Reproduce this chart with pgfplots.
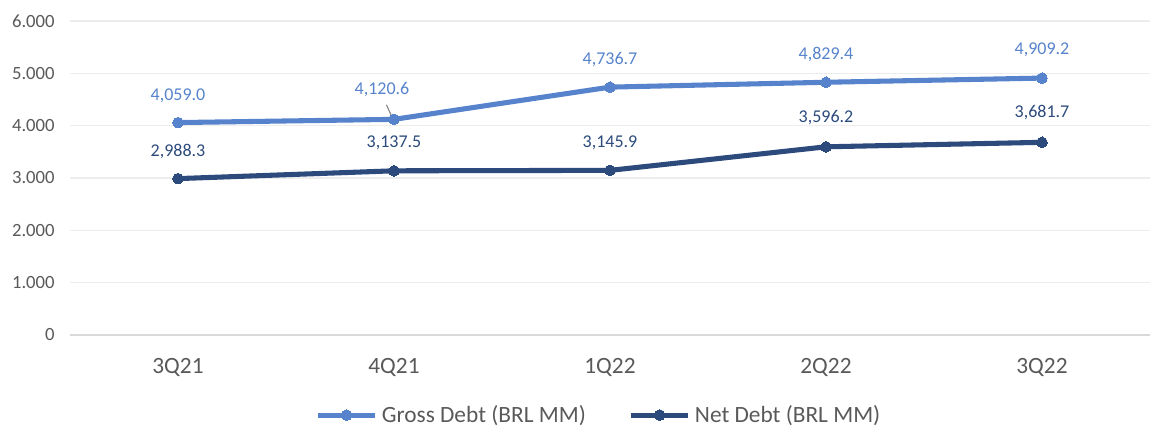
\documentclass[border=0pt]{standalone}
\usepackage{pgfplots}
\usepackage{pgfplotstable}
\pgfplotsset{compat=1.18}
\usepackage{fontspec}
\setmainfont{Carlito}

\definecolor{grossblue}{HTML}{5683CC}
\definecolor{netblue}{HTML}{2C4A7C}
\definecolor{txtgray}{HTML}{595959}
\definecolor{gridgray}{HTML}{EDEDED}
\definecolor{axisgray}{HTML}{D9D9D9}

% x = quarter index, dx/dy = label offset in pt
\pgfplotstableread{
x y dx dy
0 4059.0 0 20
1 4120.6 -9 22
2 4736.7 0 21
3 4829.4 0 21
4 4909.2 0 21
}\grossdebt
\pgfplotstableread{
x y dx dy
0 2988.3 0 20.5
1 3137.5 0 21
2 3145.9 0 21
3 3596.2 0 22
4 3681.7 0 22
}\netdebt

\begin{document}
\begin{tikzpicture}[x=1pt,y=1pt]
\useasboundingbox (-52.5,-69.75) rectangle (815.25,251.25);
\begin{axis}[
    scale only axis,
    width=810pt, height=235.5pt,
    xmin=-0.5, xmax=4.5,
    ymin=0, ymax=6000,
    xtick={0,...,4},
    xticklabels={3Q21,4Q21,1Q22,2Q22,3Q22},
    ytick={0,1000,...,6000},
    axis line style={draw=none},
    extra y ticks={0},
    extra y tick style={grid style={draw=axisgray, line width=1pt}, ticklabel style={opacity=0}},
    ymajorgrids,
    grid style={draw=gridgray, line width=1pt},
    major tick length=0pt,
    tick style={draw=none},
    /pgf/number format/assume math mode=true,
    /pgf/number format/1000 sep={.},
    yticklabel style={font=\fontsize{14}{16}\selectfont, text=txtgray, xshift=-8pt},
    xticklabel style={font=\fontsize{17.5}{20}\selectfont, text=txtgray, yshift=-14pt},
    legend style={
        at={(0.49,-0.255)}, anchor=center,
        draw=none, fill=none,
        legend columns=2,
        font=\fontsize{17.5}{20}\selectfont, text=txtgray,
        /tikz/every odd column/.append style={column sep=1pt},
        /tikz/every even column/.append style={column sep=30pt},
    },
    legend cell align=left,
    legend image code/.code={
        \draw[#1, mark repeat=2, mark phase=2] plot coordinates {(0pt,0pt) (21.5pt,0pt) (43pt,0pt)};
    },
    clip=false,
    debt line/.style={
        line width=3.8pt, mark=*, mark size=4pt, mark options={line width=0pt},
        visualization depends on={\thisrow{dx} \as \labdx},
        visualization depends on={\thisrow{dy} \as \labdy},
        nodes near coords={\pgfmathprintnumber[fixed,fixed zerofill,precision=1,1000 sep={,},assume math mode=true]{\pgfplotspointmeta}},
        nodes near coords style={font=\fontsize{13.5}{15}\selectfont, anchor=center, xshift=\labdx pt, yshift=\labdy pt, text=#1},
    },
]
\addplot[grossblue, debt line=grossblue] table[x=x, y=y] {\grossdebt};
\addlegendentry{Gross Debt (BRL MM)}
\addplot[netblue, debt line=netblue] table[x=x, y=y] {\netdebt};
\addlegendentry{Net Debt (BRL MM)}
% leader line of the 4Q21 gross debt label
\draw[gray, line width=0.8pt] (axis cs:0.965,4400) -- (axis cs:0.99,4170);
\end{axis}
\end{tikzpicture}
\end{document}
